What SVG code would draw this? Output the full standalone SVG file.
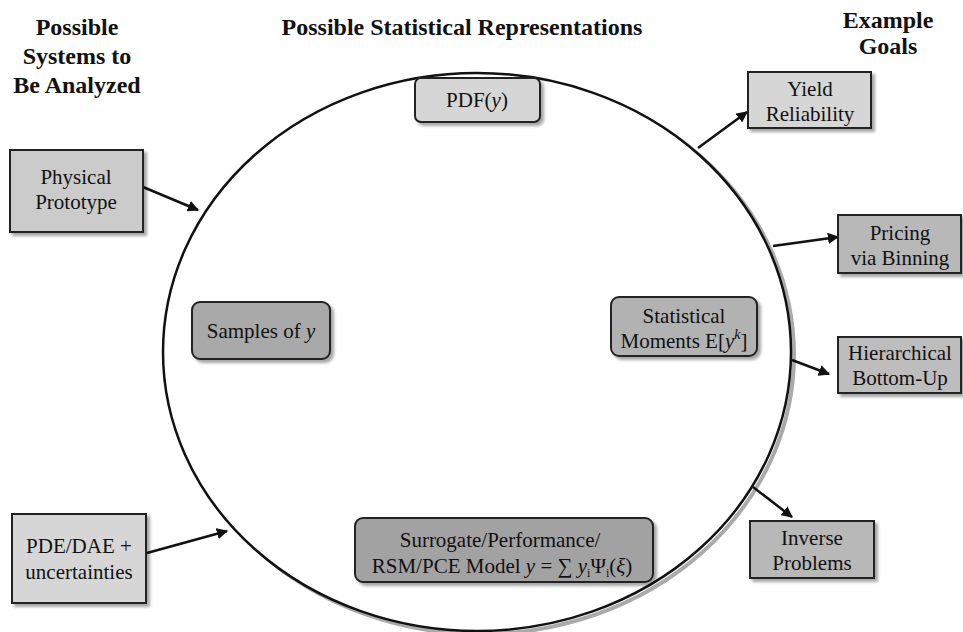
<svg xmlns="http://www.w3.org/2000/svg" width="963" height="632" viewBox="0 0 963 632">
<style>
.hdr{font-family:"Liberation Serif","Times New Roman",serif;font-weight:bold;font-size:24px;fill:#111;text-anchor:middle}
.t{font-family:"Liberation Serif","Times New Roman",serif;font-size:21px;fill:#111;text-anchor:middle}
.box{stroke:#222;stroke-width:2}
.conn{stroke:#111;stroke-width:2.5;fill:none}
</style>
<defs>
<filter id="sh" x="-10%" y="-10%" width="130%" height="140%">
<feDropShadow dx="3" dy="3" stdDeviation="1.5" flood-color="#000" flood-opacity="0.35"/>
</filter>
<marker id="ah" viewBox="0 0 10 10" refX="9" refY="5" markerWidth="4.5" markerHeight="4.5" orient="auto" markerUnits="strokeWidth">
<path d="M0,0 L10,5 L0,10 z" fill="#111"/>
</marker>
</defs>
<rect width="963" height="632" fill="#fff"/>

<g id="headers">
<text class="hdr" x="77" y="35">Possible</text>
<text class="hdr" x="77" y="64">Systems to</text>
<text class="hdr" x="77" y="93">Be Analyzed</text>
<text class="hdr" x="462" y="35">Possible Statistical Representations</text>
<text class="hdr" x="888" y="28">Example</text>
<text class="hdr" x="888" y="54">Goals</text>
</g>

<g id="circle">
<ellipse cx="479" cy="353" rx="313" ry="279" fill="none" stroke="#aaa" stroke-width="4" transform="translate(2,2)"/>
<ellipse cx="477" cy="352" rx="314" ry="279" fill="#fff" stroke="#111" stroke-width="2.5"/>
</g>

<g id="connectors">
<line class="conn" x1="143" y1="187" x2="198" y2="210" marker-end="url(#ah)"/>
<line class="conn" x1="147" y1="553" x2="227" y2="531" marker-end="url(#ah)"/>
<line class="conn" x1="698" y1="148" x2="747" y2="112" marker-end="url(#ah)"/>
<line class="conn" x1="773" y1="246" x2="838" y2="237" marker-end="url(#ah)"/>
<line class="conn" x1="792" y1="360" x2="829" y2="374" marker-end="url(#ah)"/>
<line class="conn" x1="753" y1="487" x2="792" y2="517" marker-end="url(#ah)"/>
</g>

<g id="physical-prototype">
<rect class="box" x="10" y="150" width="133" height="82" fill="#cbcbcb" filter="url(#sh)"/>
<text class="t" x="76" y="184">Physical</text>
<text class="t" x="76" y="209">Prototype</text>
</g>

<g id="pde-dae">
<rect class="box" x="12" y="514" width="134" height="89" fill="#d6d6d6" filter="url(#sh)"/>
<text class="t" x="79" y="553">PDE/DAE +</text>
<text class="t" x="79" y="579">uncertainties</text>
</g>

<g id="pdf">
<rect class="box" x="415" y="78" width="125" height="44" rx="6" fill="#d6d6d6" filter="url(#sh)"/>
<text class="t" x="477" y="107">PDF(<tspan font-style="italic">y</tspan>)</text>
</g>

<g id="samples">
<rect class="box" x="192" y="302" width="138" height="57" rx="8" fill="#a9a9a9" filter="url(#sh)"/>
<text class="t" x="261" y="338">Samples of <tspan font-style="italic">y</tspan></text>
</g>

<g id="moments">
<rect class="box" x="611" y="297" width="146" height="59" rx="8" fill="#b2b2b2" filter="url(#sh)"/>
<text class="t" x="684" y="323">Statistical</text>
<text class="t" x="684" y="348">Moments E[<tspan font-style="italic">y</tspan><tspan font-style="italic" font-size="14" dy="-9">k</tspan><tspan dy="9">]</tspan></text>
</g>

<g id="surrogate">
<rect class="box" x="355" y="518" width="298" height="64" rx="8" fill="#a2a2a2" filter="url(#sh)"/>
<text class="t" x="500" y="547">Surrogate/Performance/</text>
<text class="t" x="502" y="573">RSM/PCE Model <tspan font-style="italic">y</tspan> = ∑ <tspan font-style="italic">y</tspan><tspan font-size="12" dy="4">i</tspan><tspan dy="-4">Ψ</tspan><tspan font-size="12" dy="4">i</tspan><tspan dy="-4">(</tspan><tspan font-style="italic">ξ</tspan>)</text>
</g>

<g id="yield">
<rect class="box" x="748" y="72" width="123" height="56" fill="#d6d6d6" filter="url(#sh)"/>
<text class="t" x="810" y="96">Yield</text>
<text class="t" x="810" y="121">Reliability</text>
</g>

<g id="pricing">
<rect class="box" x="838" y="215" width="123" height="58" fill="#b8b8b8" filter="url(#sh)"/>
<text class="t" x="900" y="240">Pricing</text>
<text class="t" x="900" y="265">via Binning</text>
</g>

<g id="hierarchical">
<rect class="box" x="838" y="337" width="123" height="56" fill="#bdbdbd" filter="url(#sh)"/>
<text class="t" x="900" y="360">Hierarchical</text>
<text class="t" x="900" y="385">Bottom-Up</text>
</g>

<g id="inverse">
<rect class="box" x="750" y="521" width="124" height="57" fill="#b8b8b8" filter="url(#sh)"/>
<text class="t" x="812" y="545">Inverse</text>
<text class="t" x="812" y="570">Problems</text>
</g>
</svg>
